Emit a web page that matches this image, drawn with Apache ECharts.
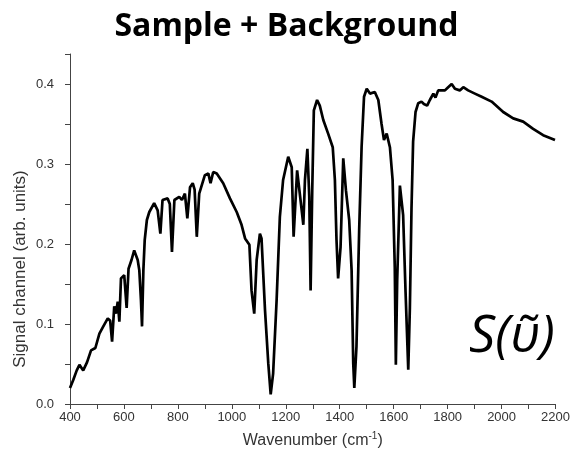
<!DOCTYPE html>
<html>
<head>
<meta charset="utf-8">
<script src="https://cdn.jsdelivr.net/npm/echarts@6/dist/echarts.min.js"></script>
<style>
html,body{margin:0;padding:0;background:#fff;}
#chart{width:573px;height:464px;}
</style>
</head>
<body>
<div id="chart"></div>
<script>
var titleText = 'Sample + Background';
var xName = 'Wavenumber';
var yName = 'Signal channel (arb. units)';
var annotation = 'S(\u03C5\u0303)';

var wavenumber = [400,412,425,435,449,463,478,494,509,525,540,549,556,564,570,577,583,589,601,610,617,628,638,651,657,663,667,672,677,685,694,712,725,735,743,762,770,778,787,805,815,826,835,845,855,862,870,879,900,913,921,931,944,968,993,1018,1036,1049,1065,1073,1083,1092,1104,1110,1123,1135,1144,1153,1166,1178,1190,1209,1222,1229,1242,1259,1265,1271,1280,1287,1292,1298,1304,1316,1326,1339,1357,1374,1382,1388,1394,1403,1413,1423,1435,1444,1450,1454,1462,1472,1481,1490,1500,1512,1530,1543,1555,1564,1574,1586,1596,1604,1608,1613,1623,1635,1644,1654,1660,1666,1672,1681,1691,1703,1712,1724,1734,1747,1755,1765,1790,1802,1815,1827,1845,1858,1876,1901,1926,1963,2006,2043,2080,2117,2154,2198];
var signal = [0.020,0.030,0.042,0.049,0.042,0.052,0.067,0.070,0.088,0.098,0.107,0.104,0.078,0.122,0.113,0.128,0.103,0.157,0.161,0.120,0.169,0.180,0.192,0.180,0.167,0.130,0.097,0.167,0.205,0.230,0.240,0.251,0.242,0.213,0.255,0.257,0.250,0.190,0.255,0.259,0.255,0.263,0.232,0.271,0.276,0.268,0.209,0.263,0.286,0.288,0.276,0.290,0.288,0.276,0.257,0.240,0.224,0.207,0.199,0.142,0.113,0.180,0.213,0.207,0.117,0.051,0.012,0.038,0.130,0.234,0.280,0.309,0.296,0.209,0.292,0.242,0.224,0.280,0.319,0.259,0.142,0.267,0.367,0.380,0.373,0.355,0.338,0.321,0.280,0.205,0.157,0.196,0.307,0.267,0.230,0.167,0.051,0.020,0.072,0.217,0.321,0.384,0.394,0.388,0.390,0.380,0.350,0.330,0.338,0.321,0.280,0.171,0.049,0.155,0.273,0.236,0.140,0.043,0.120,0.244,0.328,0.365,0.376,0.378,0.375,0.373,0.380,0.388,0.383,0.392,0.392,0.396,0.400,0.394,0.392,0.396,0.392,0.388,0.384,0.378,0.365,0.357,0.353,0.344,0.336,0.330];

var xMin = 400, xMax = 2200, xStep = 100, xLabelStep = 200;
var yMin = 0, yMax = 0.4375, yStep = 0.05, yLabelStep = 0.1;

var pts = wavenumber.map(function(w, i){ return [w, signal[i]]; });

var chart = echarts.init(document.getElementById('chart'), null, {renderer:'canvas'});
var axisColor = '#444';
chart.setOption({
  animation: false,
  backgroundColor: '#fff',
  title: {
    text: titleText,
    left: 'center',
    top: 6,
    textStyle: {fontFamily: 'Open Sans', fontWeight: 'bold', fontSize: 32, color: '#000'}
  },
  grid: {left: 70, right: 17, top: 54, bottom: 60, containLabel: false},
  xAxis: {
    type: 'value', min: xMin, max: xMax, interval: xStep,
    name: xName + ' (cm{sup|-1})',
    nameLocation: 'middle', nameGap: 27,
    nameTextStyle: {fontFamily: 'Liberation Sans', fontSize: 16, color: '#333',
      rich: {sup: {fontSize: 10, verticalAlign: 'top', padding: [0,0,9,0], color: '#333', fontFamily: 'Liberation Sans'}}},
    axisLine: {show: true, lineStyle: {color: axisColor, width: 1}},
    axisTick: {show: true, inside: false, length: 5, lineStyle: {color: axisColor}},
    splitLine: {show: false},
    axisLabel: {
      fontFamily: 'Liberation Sans', fontSize: 13, color: '#333', margin: 7,
      formatter: function(v){ return (Math.round(v) % xLabelStep === 0) ? String(v) : ''; }
    }
  },
  yAxis: {
    type: 'value', min: yMin, max: yMax, interval: yStep,
    axisLine: {show: true, lineStyle: {color: axisColor, width: 1}},
    axisTick: {show: true, inside: false, length: 5, lineStyle: {color: axisColor}},
    splitLine: {show: false},
    axisLabel: {
      fontFamily: 'Liberation Sans', fontSize: 13, color: '#333', margin: 16,
      formatter: function(v){
        var k = v / yLabelStep;
        if (Math.abs(k - Math.round(k)) < 1e-6 && v <= 0.4 + 1e-9) return v.toFixed(1);
        return '';
      }
    }
  },
  graphic: [
    {type: 'text', x: 20, y: 269, rotation: Math.PI/2,
     style: {text: yName, fontFamily: 'Liberation Sans', fontSize: 17, fill: '#333', align: 'center', verticalAlign: 'middle'}},
    {type: 'text', x: 512, y: 337,
     style: {text: annotation, fontFamily: 'Open Sans', fontStyle: 'italic', fontSize: 52, fill: '#000', align: 'center', verticalAlign: 'middle'}}
  ],
  series: [{
    type: 'line', data: pts, showSymbol: false, symbol: 'none', smooth: false,
    lineStyle: {color: '#000', width: 2.7}, clip: true
  }]
});
</script>
</body>
</html>
